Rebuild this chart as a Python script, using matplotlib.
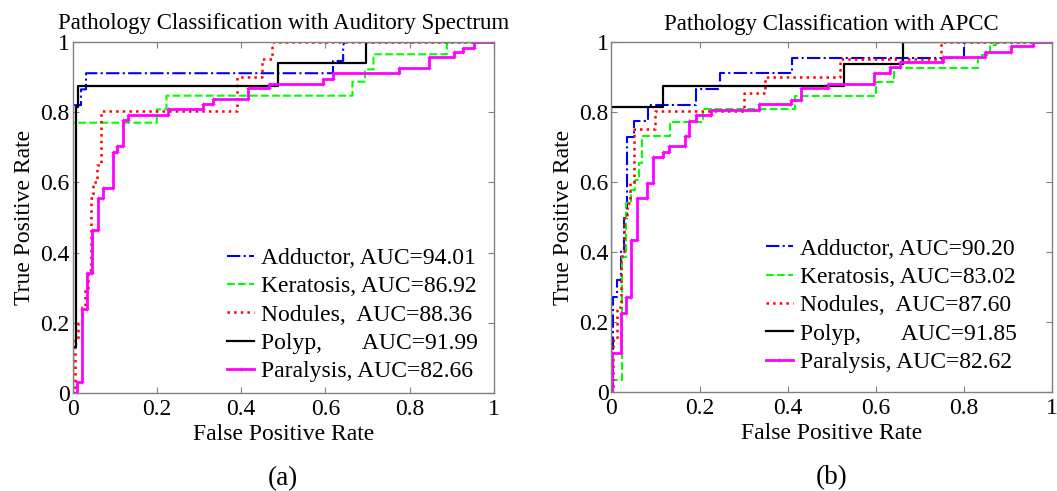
import numpy as np
from matplotlib import pyplot as plt

plt.rcParams['font.family'] = ['Liberation Serif', 'DejaVu Serif']

############################ data ############################################
# (a) auditory spectrum, corner points of the ROC steps
fpr_add_a = [0, 0, 0.02, 0.02, 0.032, 0.032, 0.618, 0.618, 0.642, 0.642, 0.645, 1]
tpr_add_a = [0, 0.82, 0.82, 0.865, 0.865, 0.911, 0.911, 0.946, 0.946, 0.99, 1, 1]

fpr_ker_a = [0, 0, 0.2, 0.2, 0.223, 0.223, 0.664, 0.664, 0.694, 0.694, 0.714, 0.714,
             0.888, 0.888, 0.89, 1]
tpr_ker_a = [0, 0.77, 0.77, 0.808, 0.808, 0.847, 0.847, 0.887, 0.887, 0.922, 0.922, 0.965,
             0.965, 0.991, 1, 1]

fpr_nod_a = [0, 0.006, 0.006, 0.014, 0.014, 0.022, 0.022, 0.03, 0.03, 0.0375, 0.0375,
             0.045, 0.045, 0.048, 0.048, 0.057, 0.057, 0.067, 0.067, 0.39, 0.39, 0.449,
             0.449, 0.473, 0.473, 1]
tpr_nod_a = [0, 0, 0.15, 0.15, 0.2, 0.2, 0.246, 0.246, 0.3, 0.3, 0.35, 0.35, 0.555,
             0.555, 0.602, 0.602, 0.65, 0.65, 0.803, 0.803, 0.901, 0.901, 0.951, 0.951,
             1, 1]

fpr_pol_a = [0, 0, 0.008, 0.008, 0.014, 0.014, 0.488, 0.488, 0.696, 0.696, 1]
tpr_pol_a = [0, 0.13, 0.13, 0.814, 0.814, 0.875, 0.875, 0.939, 0.939, 1, 1]

fpr_par_a = [0, 0.01, 0.01, 0.022, 0.022, 0.034, 0.034, 0.047, 0.047, 0.06, 0.06, 0.072,
             0.072, 0.095, 0.095, 0.106, 0.106, 0.12, 0.12, 0.131, 0.131, 0.227, 0.227,
             0.309, 0.309, 0.333, 0.333, 0.417, 0.417, 0.465, 0.465, 0.595, 0.595, 0.619,
             0.619, 0.775, 0.775, 0.846, 0.846, 0.904, 0.904, 0.927, 0.927, 0.953, 0.953, 1]
tpr_par_a = [0, 0, 0.032, 0.032, 0.238, 0.238, 0.341, 0.341, 0.464, 0.464, 0.555, 0.555,
             0.583, 0.583, 0.687, 0.687, 0.705, 0.705, 0.778, 0.778, 0.792, 0.792, 0.809,
             0.809, 0.823, 0.823, 0.838, 0.838, 0.868, 0.868, 0.88, 0.88, 0.895, 0.895,
             0.911, 0.911, 0.925, 0.925, 0.958, 0.958, 0.971, 0.971, 0.982, 0.982, 1, 1]

# (b) APCC
fpr_add_b = [0, 0.003, 0.003, 0.013, 0.013, 0.021, 0.021, 0.028, 0.028, 0.036, 0.036,
             0.051, 0.051, 0.083, 0.083, 0.193, 0.193, 0.247, 0.247, 0.41, 0.41, 0.8,
             0.8, 1]
tpr_add_b = [0, 0, 0.273, 0.273, 0.321, 0.321, 0.407, 0.407, 0.497, 0.497, 0.729, 0.729,
             0.776, 0.776, 0.821, 0.821, 0.866, 0.866, 0.911, 0.911, 0.956, 0.956, 1, 1]

fpr_ker_b = [0, 0.004, 0.004, 0.023, 0.023, 0.032, 0.032, 0.044, 0.044, 0.053, 0.053,
             0.062, 0.062, 0.07, 0.07, 0.134, 0.134, 0.208, 0.208, 0.417, 0.417, 0.6,
             0.6, 0.642, 0.642, 0.832, 0.832, 0.859, 0.859, 0.874, 0.874, 1]
tpr_ker_b = [0, 0, 0.035, 0.035, 0.387, 0.387, 0.54, 0.54, 0.578, 0.578, 0.607, 0.607,
             0.654, 0.654, 0.733, 0.733, 0.773, 0.773, 0.809, 0.809, 0.847, 0.847, 0.886,
             0.886, 0.926, 0.926, 0.964, 0.964, 0.992, 0.992, 1, 1]

fpr_nod_b = [0, 0.004, 0.004, 0.013, 0.013, 0.021, 0.021, 0.028, 0.028, 0.036, 0.036,
             0.043, 0.043, 0.051, 0.051, 0.099, 0.099, 0.302, 0.302, 0.349, 0.349, 0.519,
             0.519, 0.749, 0.749, 1]
tpr_nod_b = [0, 0, 0.149, 0.149, 0.245, 0.245, 0.39, 0.39, 0.502, 0.502, 0.54, 0.54, 0.602,
             0.602, 0.751, 0.751, 0.805, 0.805, 0.854, 0.854, 0.902, 0.902, 0.951, 0.951,
             1, 1]

fpr_pol_b = [0, 0, 0.117, 0.117, 0.527, 0.527, 0.661, 0.661, 1]
tpr_pol_b = [0, 0.814, 0.814, 0.875, 0.875, 0.938, 0.938, 1, 1]

fpr_par_b = [0, 0.002, 0.002, 0.021, 0.021, 0.034, 0.034, 0.045, 0.045, 0.058, 0.058,
             0.081, 0.081, 0.094, 0.094, 0.117, 0.117, 0.13, 0.13, 0.166, 0.166, 0.177,
             0.177, 0.191, 0.191, 0.225, 0.225, 0.334, 0.334, 0.408, 0.408, 0.431, 0.431,
             0.491, 0.491, 0.597, 0.597, 0.632, 0.632, 0.655, 0.655, 0.753, 0.753, 0.848,
             0.848, 0.908, 0.908, 0.957, 0.957, 1]
tpr_par_b = [0, 0, 0.111, 0.111, 0.226, 0.226, 0.273, 0.273, 0.435, 0.435, 0.554, 0.554,
             0.597, 0.597, 0.673, 0.673, 0.688, 0.688, 0.704, 0.704, 0.732, 0.732, 0.776,
             0.776, 0.792, 0.792, 0.807, 0.807, 0.824, 0.824, 0.835, 0.835, 0.869, 0.869,
             0.881, 0.881, 0.913, 0.913, 0.929, 0.929, 0.945, 0.945, 0.959, 0.959, 0.973,
             0.973, 0.989, 0.989, 1, 1]

labels_a = ['Adductor, AUC=94.01', 'Keratosis, AUC=86.92', 'Nodules,  AUC=88.36',
            'Polyp,       AUC=91.99', 'Paralysis, AUC=82.66']
labels_b = ['Adductor, AUC=90.20', 'Keratosis, AUC=83.02', 'Nodules,  AUC=87.60',
            'Polyp,       AUC=91.85', 'Paralysis, AUC=82.62']
titles = ['Pathology Classification with Auditory Spectrum',
          'Pathology Classification with APCC']
panel = ['(a)', '(b)']
ticks = [0, 0.2, 0.4, 0.6, 0.8, 1]
tick_labels = ['0', '0.2', '0.4', '0.6', '0.8', '1']
##############################################################################

fig = plt.figure(figsize=(10.57, 4.91), dpi=100)
ax_a = fig.add_axes([0.0686, 0.1996, 0.3988, 0.7149])
ax_b = fig.add_axes([0.5785, 0.2010, 0.4167, 0.7128])

curves = [
    [(fpr_add_a, tpr_add_a), (fpr_ker_a, tpr_ker_a), (fpr_nod_a, tpr_nod_a),
     (fpr_pol_a, tpr_pol_a), (fpr_par_a, tpr_par_a)],
    [(fpr_add_b, tpr_add_b), (fpr_ker_b, tpr_ker_b), (fpr_nod_b, tpr_nod_b),
     (fpr_pol_b, tpr_pol_b), (fpr_par_b, tpr_par_b)],
]
styles = [dict(color='#0000ff', ls='-.', lw=1.5),
          dict(color='#00ff00', ls='--', lw=1.5),
          dict(color='#ff0000', ls=':', lw=1.8),
          dict(color='black', ls='-', lw=1.6),
          dict(color='#ff00ff', ls='-', lw=2.0, marker='+', ms=3, mew=0.6)]
# legend spot (handle start x, bottom y) in axes coords
leg_anchor = [(0.367, 0.03), (0.35, 0.055)]

for k, ax in enumerate([ax_a, ax_b]):
    labs = labels_a if k == 0 else labels_b
    for (f, t), st, lab in zip(curves[k], styles, labs):
        ax.plot(f, t, label=lab, **st)
    ax.set_xlim(0, 1)
    ax.set_ylim(0, 1)
    ax.set_xticks(ticks)
    ax.set_xticklabels(tick_labels)
    ax.set_yticks(ticks)
    ax.set_yticklabels(tick_labels)
    ax.tick_params(direction='in', top=True, right=True, length=4, width=0.8,
                   colors='#808080', labelcolor='black', labelsize=17, pad=2)
    ax.tick_params(axis='x', pad=4)
    for s in ax.spines.values():
        s.set_color('#808080')
        s.set_linewidth(1)
    ax.set_title(titles[k], fontsize=16.5, pad=9)
    ax.set_xlabel('False Positive Rate', fontsize=17, labelpad=3)
    ax.set_ylabel('True Positive Rate', fontsize=17, labelpad=4)
    ax.legend(loc='lower left', bbox_to_anchor=leg_anchor[k], frameon=False,
              fontsize=17, handlelength=1.15, handletextpad=0.3, labelspacing=0.29,
              borderpad=0, borderaxespad=0)
    ax.text(0.5, -0.243, panel[k], transform=ax.transAxes, ha='center', va='center',
            fontsize=19.5)

plt.savefig('out.png', dpi=100)
